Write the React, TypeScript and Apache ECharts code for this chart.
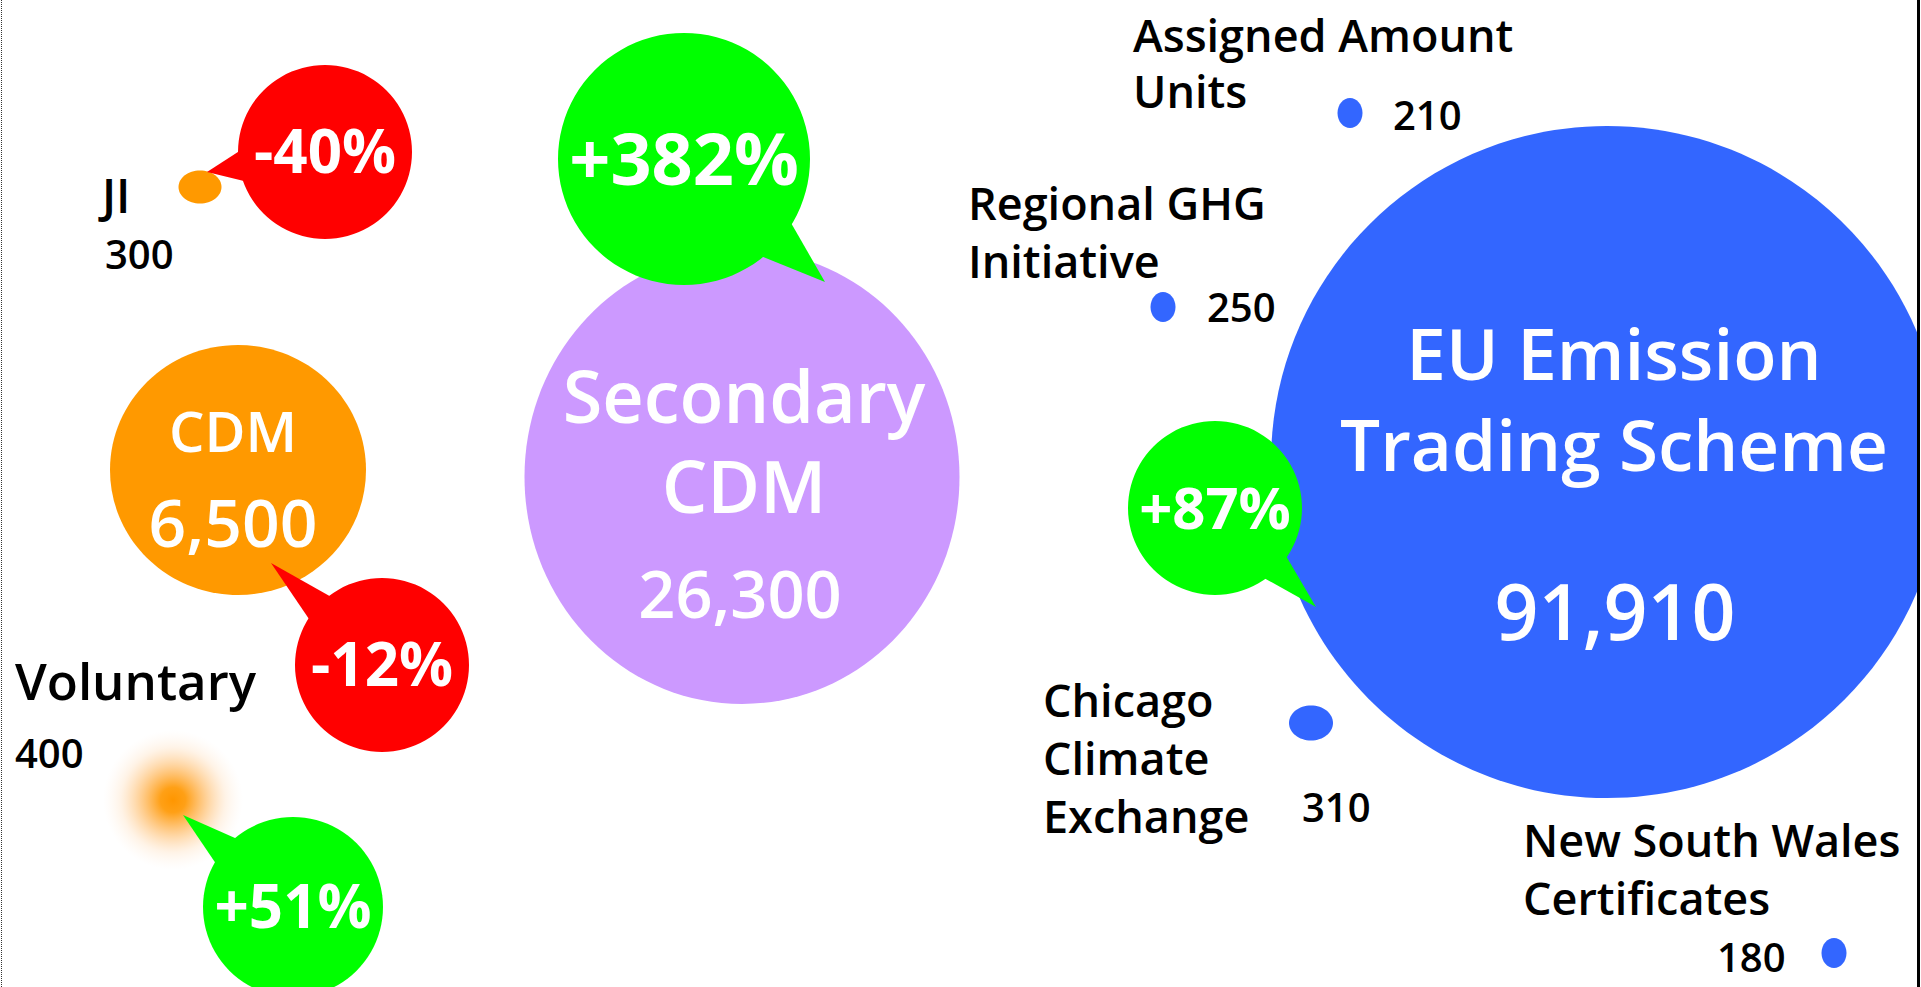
import React, { useEffect, useRef } from "react";
import * as echarts from "echarts";

// ---------------- data ----------------
const marketNames = [
  "JI",
  "CDM",
  "Voluntary",
  "Secondary\nCDM",
  "Assigned Amount\nUnits",
  "Regional GHG\nInitiative",
  "EU Emission\nTrading Scheme",
  "Chicago\nClimate\nExchange",
  "New South Wales\nCertificates",
];
const marketVolumes = [300, 6500, 400, 26300, 210, 250, 91910, 310, 180];

// growth callouts: which market, and the change in %
const changeMarket = [0, 1, 2, 3, 6];
const changeValues = [-40, -12, 51, 382, 87];

// ---------------- layout (axis units) ----------------
const bubbleX = [200, 238, 173, 742, 1350, 1163, 1607, 1311, 1834];
const bubbleY = [187, 470, 800, 477, 113, 307, 462, 723, 953];
const bubbleW = [43, 256, 140, 435, 25, 25, 672, 44, 25];
const bubbleH = [33, 250, 140, 454, 30, 30, 672, 35, 30];
const bubbleColor = ["#FF9900", "#FF9900", "glow", "#CC99FF", "#3366FF", "#3366FF", "#3366FF", "#3366FF", "#3366FF"];

const nameX = [102, 233, 15, 744, 1133, 968, 1614, 1043, 1523];
const nameY = [213, 452, 700, 423, 52, 220, 380, 717, 857];
const nameAlign = ["left", "center", "left", "center", "left", "left", "center", "left", "left"];
const nameSize = [47, 56, 51, 72, 45, 45, 71, 45, 45];
const lineStep = [0, 0, 0, 90, 56, 58, 91, 58, 58];
const valueX = [105, 233, 15, 740, 1393, 1207, 1615, 1302, 1717];
const valueY = [269, 547, 768, 618, 130, 322, 640, 822, 972];
const valueSize = [40, 66, 40, 65, 40, 40, 77, 40, 40];
const insideLabel = [false, true, false, true, false, false, true, false, false];

const calloutX = [325, 382, 293, 684, 1215];
const calloutY = [152, 665, 907, 159, 508];
const calloutR = [87, 87, 90, 126, 87];
const tipX = [207, 271, 183, 825, 1316];
const tipY = [172, 563, 815, 282, 607];
const calloutFont = [60, 60, 60, 72, 58];

const W = 1921;
const H = 987;
const FONT = "'Open Sans', 'DejaVu Sans', sans-serif";
const CENTRAL = 0.388; // baseline offset for 'middle' vertical alignment

function fmtChange(v: number) {
  return (v > 0 ? "+" : "") + v + "%";
}

export default function App() {
  const ref = useRef<HTMLDivElement>(null);

  useEffect(() => {
    document.body.style.margin = "0";
    document.body.style.overflow = "hidden";
    if (!ref.current) return;
    const chart = echarts.init(ref.current, undefined, { renderer: "svg" });

    const marketData = marketNames.map((n, i) => [bubbleX[i], bubbleY[i], bubbleW[i], bubbleH[i], marketVolumes[i]]);
    const calloutData = changeValues.map((v, i) => [calloutX[i], calloutY[i], calloutR[i], tipX[i], tipY[i], v, changeMarket[i]]);

    const textEl = (txt: string, p: number[], size: number, align: string, fill: string, weight: any) => ({
      type: "text",
      x: p[0],
      y: p[1] - CENTRAL * size,
      style: {
        text: txt,
        fill,
        fontSize: size,
        fontFamily: FONT,
        fontWeight: weight,
        align,
        verticalAlign: "middle",
      },
    });

    const option: any = {
      animation: false,
      backgroundColor: "#ffffff",
      grid: { left: 0, right: 0, top: 0, bottom: 0 },
      xAxis: { type: "value", min: 0, max: W, show: false },
      yAxis: { type: "value", min: 0, max: H, inverse: true, show: false },
      graphic: [
        {
          type: "line",
          z: 100,
          shape: { x1: 1.5, y1: 0, x2: 1.5, y2: H },
          style: { stroke: "#333", lineWidth: 1, lineDash: [1, 1] },
        },
        { type: "rect", z: 100, shape: { x: 1917, y: 0, width: 3, height: H }, style: { fill: "#000" } },
        { type: "rect", z: 100, shape: { x: 1920, y: 0, width: 2, height: H }, style: { fill: "#fff" } },
      ],
      series: [
        {
          type: "custom",
          name: "markets",
          z: 2,
          data: marketData,
          renderItem: (params: any, api: any) => {
            const i = params.dataIndex;
            const c = api.coord([api.value(0), api.value(1)]);
            const s = api.size([api.value(2), api.value(3)]);
            const rx = Math.abs(s[0]) / 2;
            const ry = Math.abs(s[1]) / 2;
            let fill: any = bubbleColor[i];
            if (fill === "glow") {
              fill = new echarts.graphic.RadialGradient(0.5, 0.5, 0.5, [
                { offset: 0, color: "rgba(255,150,0,1)" },
                { offset: 0.18, color: "rgba(255,155,10,0.95)" },
                { offset: 0.45, color: "rgba(255,165,50,0.55)" },
                { offset: 0.75, color: "rgba(255,190,120,0.18)" },
                { offset: 1, color: "rgba(255,220,190,0)" },
              ]);
            }
            const children: any[] = [
              { type: "ellipse", shape: { cx: c[0], cy: c[1], rx, ry }, style: { fill } },
            ];
            const inside = insideLabel[i];
            const color = inside ? "#ffffff" : "#000000";
            const lines = marketNames[i].split("\n");
            lines.forEach((ln, k) => {
              const p = api.coord([nameX[i], nameY[i] + k * lineStep[i]]);
              children.push(textEl(ln, p, nameSize[i], nameAlign[i], color, 600));
            });
            const vp = api.coord([valueX[i], valueY[i]]);
            children.push(
              textEl(api.value(4).toLocaleString("en-US"), vp, valueSize[i], inside ? "center" : "left", color, 600)
            );
            return { type: "group", children };
          },
        },
        {
          type: "custom",
          name: "change",
          z: 3,
          data: calloutData,
          renderItem: (params: any, api: any) => {
            const i = params.dataIndex;
            const c = api.coord([api.value(0), api.value(1)]);
            const r = Math.abs(api.size([api.value(2), 0])[0]);
            const t = api.coord([api.value(3), api.value(4)]);
            const v = api.value(5);
            const color = v > 0 ? "#00FF00" : "#FF0000";
            const ang = Math.atan2(t[1] - c[1], t[0] - c[0]);
            const d = 0.19;
            const rr = r * 0.97;
            const b1 = [c[0] + rr * Math.cos(ang - d), c[1] + rr * Math.sin(ang - d)];
            const b2 = [c[0] + rr * Math.cos(ang + d), c[1] + rr * Math.sin(ang + d)];
            const size = calloutFont[i];
            return {
              type: "group",
              children: [
                { type: "polygon", shape: { points: [b1, t, b2, c] }, style: { fill: color } },
                { type: "circle", shape: { cx: c[0], cy: c[1], r }, style: { fill: color } },
                {
                  type: "text",
                  x: c[0],
                  y: c[1] - 0.03 * size,
                  style: {
                    text: fmtChange(v),
                    fill: "#ffffff",
                    fontSize: size,
                    fontFamily: FONT,
                    fontWeight: "bold",
                    align: "center",
                    verticalAlign: "middle",
                  },
                },
              ],
            };
          },
        },
      ],
    };

    chart.setOption(option);
    return () => chart.dispose();
  }, []);

  return <div ref={ref} style={{ width: W, height: H }} />;
}
